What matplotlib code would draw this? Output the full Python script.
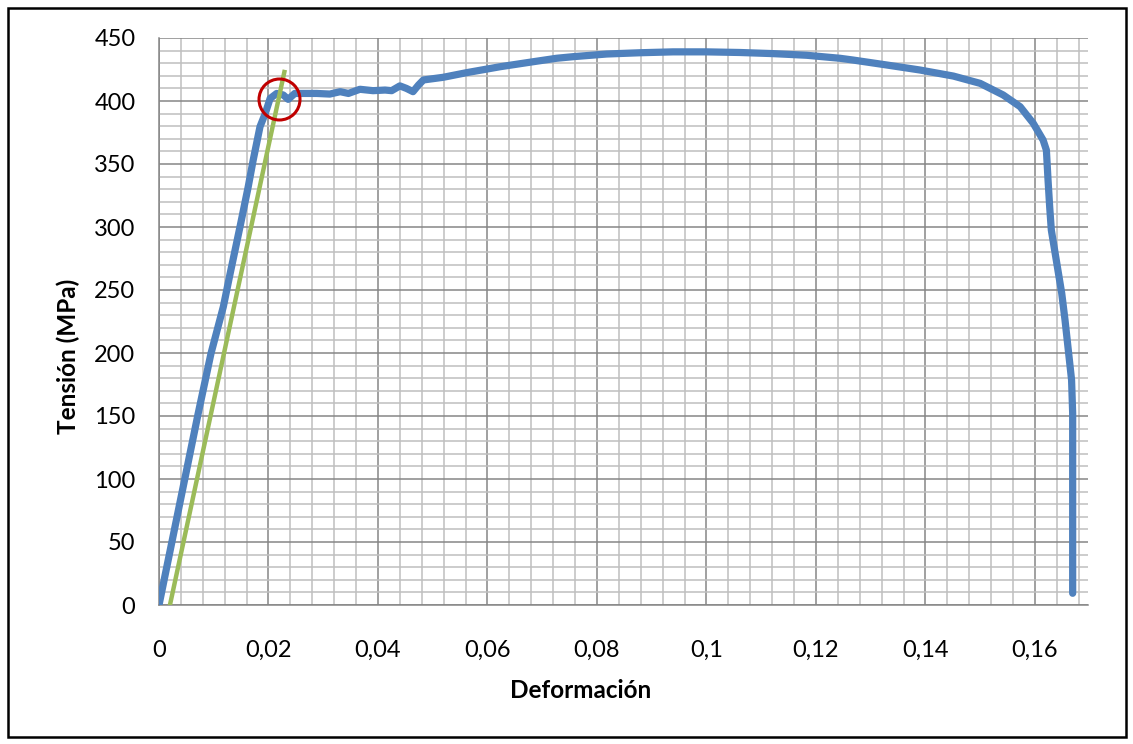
import matplotlib
matplotlib.use('Agg')
from matplotlib import pyplot as plt
from matplotlib.patches import Rectangle
from matplotlib.ticker import FuncFormatter, MultipleLocator

# Stress-strain curve
STRAIN = [0.0, 0.0071, 0.0095, 0.01175, 0.0130, 0.0148, 0.0163, 0.0172,
          0.01845, 0.0194, 0.0203, 0.0215, 0.0227, 0.0236, 0.0248, 0.0270,
          0.0288, 0.0312, 0.0331, 0.0346, 0.0367, 0.0391, 0.0413, 0.0425,
          0.0440, 0.0452, 0.0464, 0.0474, 0.0483, 0.0519, 0.0562, 0.0623,
          0.0684, 0.0726, 0.0757, 0.0818, 0.0879, 0.0939, 0.1000, 0.1061,
          0.1122, 0.1183, 0.1244, 0.1268, 0.1329, 0.1390, 0.1451, 0.1500,
          0.1542, 0.1573, 0.1597, 0.1615, 0.1621, 0.1624, 0.1627, 0.1630,
          0.1640, 0.1649, 0.1655, 0.1661, 0.1667, 0.1669, 0.1669, 0.1669]
STRESS = [0, 150.8, 199.7, 236.7, 263.2, 300.2, 332, 353,
          379.6, 390, 402, 406, 404.8, 401.3, 406, 406,
          406, 405.5, 407.4, 406, 409.3, 408.2, 408.7, 408.2,
          412, 410, 407.4, 412.7, 416.7, 418.8, 422.5, 427.2,
          431.2, 433.9, 435.2, 437.3, 438.3, 439.0, 439.0, 438.5,
          437.6, 436.3, 433.9, 432.5, 428.6, 424.6, 419.8, 414,
          404.8, 395.5, 382.3, 369, 361, 337.3, 316, 297.6,
          271.2, 247.4, 226.2, 202.4, 178.6, 152, 72.8, 9.3]

# 0.2 % offset line
OFFSET_X = [0.0020, 0.0229]
OFFSET_Y = [0, 423]

# yield point marker
CIRCLE_X = [0.0220]
CIRCLE_Y = [401.2]

plt.rcParams['font.family'] = ['Lato', 'DejaVu Sans']

fig = plt.figure(figsize=(11.33, 7.44), dpi=100)
ax = fig.add_axes([159 / 1133, 1 - 605 / 744, (1088 - 159) / 1133, (605 - 38) / 744])

ax.plot(STRAIN, STRESS, color='#4F81BD', lw=5.2, solid_capstyle='round',
        solid_joinstyle='round', zorder=3)
ax.plot(OFFSET_X, OFFSET_Y, color='#9BBB59', lw=3.2, zorder=4)
ax.plot(CIRCLE_X, CIRCLE_Y, 'o', ms=29.5, mfc='none', mec='#C00000',
        mew=2.2, zorder=5)

ax.set_xlim(0, 0.1697)
ax.set_ylim(0, 450)
ax.xaxis.set_major_locator(MultipleLocator(0.02))
ax.xaxis.set_minor_locator(MultipleLocator(0.004))
ax.yaxis.set_major_locator(MultipleLocator(50))
ax.yaxis.set_minor_locator(MultipleLocator(10))
ax.xaxis.set_major_formatter(FuncFormatter(
    lambda v, _: ('%g' % round(v, 4)).replace('.', ',')))

ax.grid(which='major', color='#868686', lw=1.1)
ax.grid(which='minor', color='#BFBFBF', lw=1.1)
ax.set_axisbelow(True)
for side in ('top', 'right'):
    ax.spines[side].set_visible(False)
for side in ('left', 'bottom'):
    ax.spines[side].set_color('#868686')
    ax.spines[side].set_linewidth(1.1)

ax.tick_params(which='both', length=0, labelsize=17)
ax.tick_params(axis='x', pad=25)
ax.tick_params(axis='y', pad=17)

ax.set_xlabel('Deformación', fontsize=17.5, fontweight='bold', va='center')
ax.set_ylabel('Tensión (MPa)', fontsize=17.5, fontweight='bold', va='center')
ax.xaxis.set_label_coords((581 - 159) / 929, (605 - 690) / 567)
ax.yaxis.set_label_coords((68 - 159) / 929, (605 - 356) / 567)

fig.patches.append(Rectangle((8 / 1133, 7 / 744), 1118 / 1133, 729 / 744,
                             transform=fig.transFigure, fill=False,
                             edgecolor='black', lw=1.8))

fig.savefig('out.png', dpi=100)
